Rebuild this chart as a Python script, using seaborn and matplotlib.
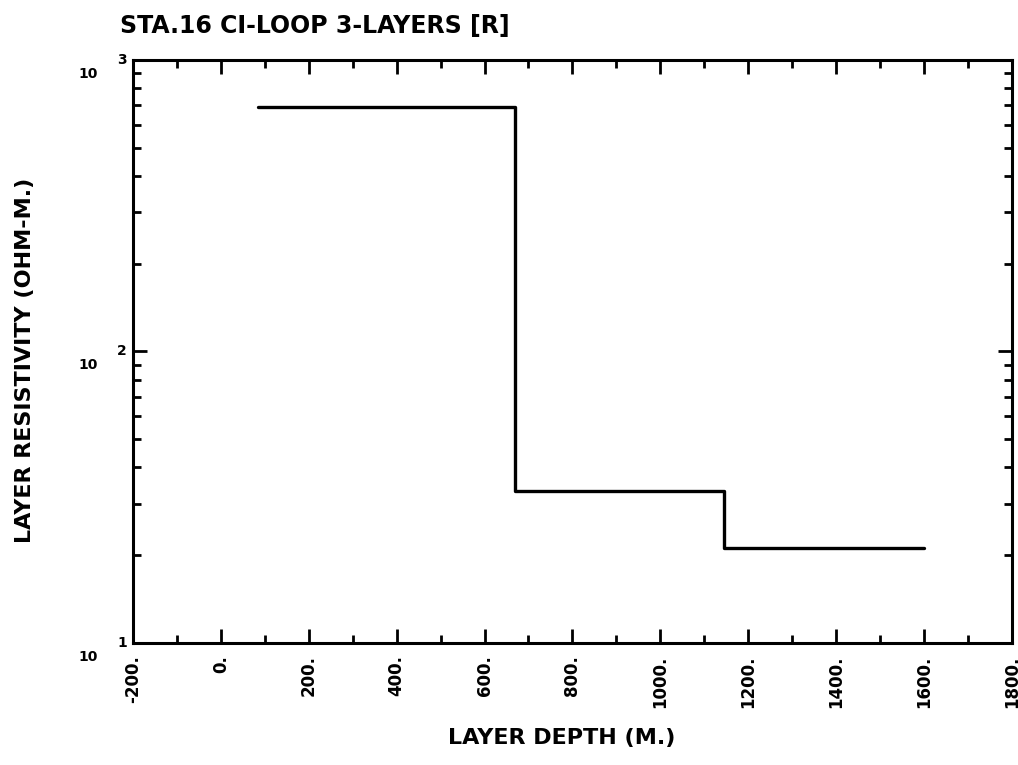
import matplotlib
matplotlib.use("Agg")
import matplotlib.pyplot as plt
import seaborn as sns
import pandas as pd
import numpy as np
from matplotlib.ticker import MultipleLocator, LogLocator, NullFormatter

# Data (step profile)
depth = [85, 670, 1145, 1600]
resistivity = [690, 33.2, 21.2, 21.2]

x_ticks = [-200, 0, 200, 400, 600, 800, 1000, 1200, 1400, 1600, 1800]
x_tick_labels = ["-200.", "0.", "200.", "400.", "600.", "800.", "1000.", "1200.", "1400.", "1600.", "1800."]
y_ticks = [10, 100, 1000]
y_tick_bases = ["10", "10", "10"]
y_tick_exps = ["1", "2", "3"]

sns.set_style("white")
plt.rcParams['font.family'] = ['DejaVu Sans']
plt.rcParams['font.weight'] = 'bold'
plt.rcParams['text.color'] = 'black'
plt.rcParams['axes.labelcolor'] = 'black'

df = pd.DataFrame({"depth": depth, "res": resistivity})

fig = plt.figure(figsize=(10.18, 7.65), dpi=100)
ax = fig.add_axes([0.1306, 0.1595, 0.8634, 0.7621])

sns.lineplot(data=df, x="depth", y="res", drawstyle="steps-post", color="black",
             linewidth=2.4, ax=ax, legend=False)

ax.set_yscale("log")
ax.set_xlim(-200, 1800)
ax.set_ylim(10, 1000)

ax.set_xticks(x_ticks)
ax.set_xticklabels(x_tick_labels, rotation=90, fontsize=12, fontweight='bold')
ax.xaxis.set_minor_locator(MultipleLocator(100))
ax.set_yticks(y_ticks)
ax.set_yticklabels([])
ax.yaxis.set_minor_locator(LogLocator(base=10, subs=np.arange(2, 10)))
ax.yaxis.set_minor_formatter(NullFormatter())

# y tick labels drawn as "10" with a detached exponent, like the plotter output
for yv, b, e in zip(y_ticks, y_tick_bases, y_tick_exps):
    ax.annotate(b, xy=(0, yv), xycoords=('axes fraction', 'data'),
                xytext=(-32, -10), textcoords='offset points',
                ha='center', va='center', fontsize=10, fontweight='bold', annotation_clip=False)
    ax.annotate(e, xy=(0, yv), xycoords=('axes fraction', 'data'),
                xytext=(-8, 0), textcoords='offset points',
                ha='center', va='center', fontsize=10, fontweight='bold', annotation_clip=False)

ax.tick_params(axis='both', which='major', direction='in', length=10, width=2,
               top=True, right=True, bottom=True, left=True, colors='black')
ax.tick_params(axis='both', which='minor', direction='in', length=6, width=2,
               top=True, right=True, bottom=True, left=True, colors='black')
ax.tick_params(axis='x', which='major', pad=9)

for s in ax.spines.values():
    s.set_visible(True)
    s.set_color('black')
    s.set_linewidth(2.2)

ax.set_xlabel("LAYER DEPTH (M.)", fontsize=16, fontweight='bold', color='black')
ax.set_ylabel("LAYER RESISTIVITY (OHM-M.)", fontsize=16, fontweight='bold', color='black')
ax.xaxis.set_label_coords(0.4875, -0.146)
ax.yaxis.set_label_coords(-0.112, 0.485)

fig.text(120/1018, 1 - 26/765, "STA.16 CI-LOOP 3-LAYERS [R]", fontsize=17,
         fontweight='bold', ha='left', va='center', color='black')

fig.savefig("out.png", dpi=100, facecolor='white')
